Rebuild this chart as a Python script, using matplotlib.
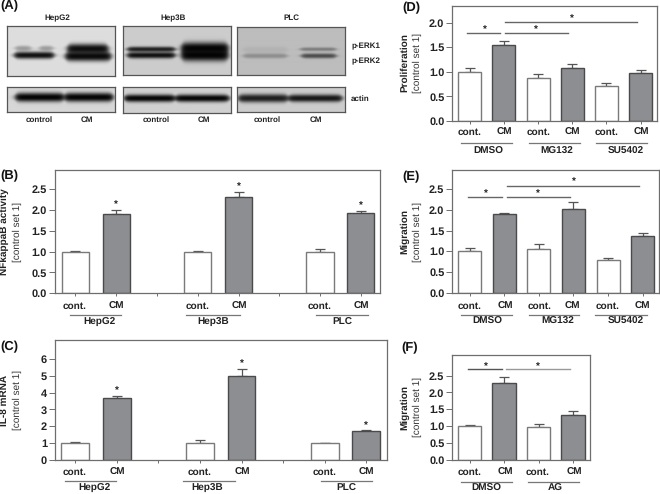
import numpy as np
import matplotlib
matplotlib.use('Agg')
import matplotlib.pyplot as plt

plt.rcParams['font.family'] = ['Liberation Sans', 'DejaVu Sans']
plt.rcParams['text.hinting'] = 'no_hinting'
plt.rcParams['text.hinting_factor'] = 1

W = 660
H = 494
edge_grey = '#6e6e6e'
text_col = '#222222'
cm_col = '#8d8e91'
lab_size = 7.2
blot_size = 5.8

groups_bc = ['HepG2', 'Hep3B', 'PLC']
groups_de = ['DMSO', 'MG132', 'SU5402']
groups_f = ['DMSO', 'AG']

# bar values, pairs of control, CM
nfkb_vals = [1.0, 1.9, 1.0, 2.3, 1.0, 1.92]
nfkb_errs = [0.01, 0.1, 0.01, 0.13, 0.07, 0.06]
il8_vals = [1.0, 3.7, 1.0, 4.95, 1.0, 1.75]
il8_errs = [0.1, 0.12, 0.2, 0.45, 0.01, 0.02]
prolif_vals = [1.0, 1.54, 0.87, 1.08, 0.72, 0.98]
prolif_errs = [0.07, 0.09, 0.08, 0.07, 0.06, 0.06]
migr_vals = [1.0, 1.9, 1.05, 2.02, 0.79, 1.36]
migr_errs = [0.07, 0.02, 0.12, 0.16, 0.04, 0.07]
migr2_vals = [1.0, 2.29, 0.97, 1.32]
migr2_errs = [0.04, 0.16, 0.1, 0.13]

pos_bc = [0, 1, 3, 4, 6, 7]
pos_de = [0, 1, 2, 3, 4, 5]
pos_f = [0, 1, 2, 3]


def ftext(x, y, s, **kw):
    kw.setdefault('ha', 'center')
    kw.setdefault('va', 'center')
    kw.setdefault('color', text_col)
    return fig.text(x / W, 1 - y / H, s, **kw)


def fline(x0, x1, y):
    fig.add_artist(plt.Line2D([x0 / W, x1 / W], [1 - y / H, 1 - y / H], color='#777777', lw=0.9))


def px_axes(left, top, right, bottom):
    return fig.add_axes([left / W, 1 - bottom / H, (right - left) / W, (bottom - top) / H])


def bar_panel(rect, pos, vals, errs, xlim, ylim, yticks, yfmt, tick_x):
    ax = px_axes(*rect)
    cols = ['white', cm_col] * (len(vals) // 2)
    edges = ['#7a7a7a', '#4a4a4a'] * (len(vals) // 2)
    ax.bar(pos, vals, width=0.67, color=cols, edgecolor=edges, linewidth=1.0, zorder=2)
    ax.errorbar(pos, vals, yerr=[np.zeros(len(errs)), errs], fmt='none', ecolor='#555555',
                elinewidth=0.9, capsize=3.8, capthick=0.9, zorder=1)
    ax.set_xlim(*xlim)
    ax.set_ylim(*ylim)
    ax.set_yticks(yticks)
    ax.set_yticklabels([yfmt % v for v in yticks], fontsize=7.8, fontweight='bold', color=text_col)
    ax.set_xticks(tick_x)
    ax.set_xticklabels([])
    ax.tick_params(axis='y', length=4.2, width=0.7, color=edge_grey, pad=1.5)
    ax.tick_params(axis='x', length=2.2, width=0.7, color=edge_grey)
    for s in ax.spines.values():
        s.set_color(edge_grey)
        s.set_linewidth(0.9)
    return ax


def star(ax, x, y):
    ax.annotate('*', (x, y), xytext=(0, 0), textcoords='offset points', ha='center', va='center',
                fontsize=7, fontweight='bold', color=text_col, annotation_clip=False)


def ylab(x0, x1, y, s):
    ftext(x0, y, s, rotation=90, fontsize=lab_size, fontweight='bold')
    ftext(x1, y, '[control set 1]', rotation=90, fontsize=7.4, color='#333333')


def sig(ax, x0, x1, y, col='#666666'):
    ax.plot([x0, x1], [y, y], color=col, lw=1.0, clip_on=False, zorder=3)


def xlabels(xs, y):
    for i, x in enumerate(xs):
        ftext(x, y, 'cont.' if i % 2 == 0 else 'CM', fontsize=lab_size, fontweight='bold')


def blot(rect, bg, bands):
    left, top, right, bottom = rect
    ax = px_axes(*rect)
    xx, yy = np.meshgrid(np.arange(left, right, 0.5), np.arange(top, bottom, 0.5))
    img = np.full(xx.shape, bg, dtype=float)
    for x0, x1, yc, thick, dark in bands:
        # lens shaped band, soft at both ends
        fx = 0.5 * (np.tanh((xx - x0) / 3.0) - np.tanh((xx - x1) / 3.0))
        t = thick * (0.45 + 0.55 * fx)
        fy = np.exp(-(np.abs(yy - yc) / t) ** 2.4)
        img = img * (1 - dark * fx * fy)
    ax.imshow(img, cmap='gray', vmin=0, vmax=1, aspect='auto', interpolation='bilinear')
    ax.set_xticks([])
    ax.set_yticks([])
    for s in ax.spines.values():
        s.set_color('#555555')
        s.set_linewidth(0.9)


fig = plt.figure(figsize=(6.6, 4.94), dpi=100)

# panel letters
for s, x, y in [('(A)', 9, 6), ('(B)', 9, 176), ('(C)', 9, 347), ('(D)', 411, 8), ('(E)', 411, 177), ('(F)', 410, 348)]:
    ftext(x, y, s, fontsize=9, fontweight='bold', color='#111111')

# (A) blots
blot((7, 26, 115, 76), 0.87, [(14, 54, 55, 3.6, 0.92), (15, 31, 48, 2.6, 0.3), (39, 53, 48, 2.6, 0.3),
                              (65, 111, 56, 5, 0.95), (67, 108, 48.5, 5, 0.93)])
blot((123, 26, 231, 75), 0.80, [(127, 175, 49, 2.6, 0.85), (127, 175, 55, 3.2, 0.92),
                                (181, 228, 48, 6, 0.97), (181, 228, 55, 6, 0.97)])
blot((237, 27, 345, 75), 0.74, [(243, 287, 56, 2.4, 0.25), (243, 287, 50, 3, 0.06),
                                (300, 336, 49.5, 1.8, 0.35), (301, 336, 56, 2.4, 0.6)])
blot((7, 87, 115, 112), 0.84, [(15, 64, 97, 4.6, 0.98), (64, 113, 97, 4.6, 0.98)])
blot((123, 87, 231, 113), 0.82, [(124, 175, 98, 3.8, 0.97), (175, 229, 98, 3.8, 0.97)])
blot((237, 87, 345, 112), 0.80, [(238, 288, 98, 4.2, 0.85), (288, 342, 98, 3.8, 0.88)])

for s, x in zip(groups_bc, [57, 173, 291]):
    ftext(x, 18, s, fontsize=blot_size, fontweight='bold')
for s, x in zip(['control', 'CM', 'control', 'CM', 'control', 'CM'], [39, 87, 156, 204, 267, 316]):
    ftext(x, 120, s, fontsize=blot_size, fontweight='bold')
for s, y in [('p-ERK1', 46), ('p-ERK2', 61), ('actin', 99)]:
    ftext(351, y, s, fontsize=blot_size, fontweight='bold', ha='left')

# (B)
ax = bar_panel((55, 170, 380, 293.3), pos_bc, nfkb_vals, nfkb_errs, (-0.5, 7.47), (0, 2.96),
               [0, 0.5, 1, 1.5, 2, 2.5], '%.1f', [0, 1, 2, 3, 4, 5, 6, 7])
for i in [1, 3, 5]:
    star(ax, pos_bc[i], nfkb_vals[i] + nfkb_errs[i] + 0.13)
ylab(4.5, 17, 232, 'NFkappaB activity')
xlabels([75, 116, 198, 239, 320, 361], 306.7)
for x0, x1, x, s in zip([70, 186, 316], [121, 240, 368], [99, 213, 342], groups_bc):
    fline(x0, x1, 314.5)
    ftext(x, 322, s, fontsize=lab_size, fontweight='bold')

# (C)
ax = bar_panel((55, 340, 387, 460.3), pos_bc, il8_vals, il8_errs, (-0.49, 7.5), (0, 7.1),
               [0, 1, 2, 3, 4, 5, 6], '%d', [0, 1, 2, 3, 4, 5, 6, 7])
for i in [1, 3, 5]:
    star(ax, pos_bc[i], il8_vals[i] + il8_errs[i] + 0.3)
ylab(5, 17, 400, 'IL-8 mRNA')
xlabels([75, 117, 200, 242, 325, 366], 472.7)
for x0, x1, x, s in zip([65, 183, 321], [116, 235, 372], [94, 207, 346], groups_bc):
    fline(x0, x1, 481.3)
    ftext(x, 488.7, s, fontsize=lab_size, fontweight='bold')

# (D)
ax = bar_panel((452.3, 6, 657.3, 121), pos_de, prolif_vals, prolif_errs, (-0.51, 5.49), (0, 2.34),
               [0, 0.5, 1, 1.5, 2], '%.1f', pos_de)
sig(ax, -0.09, 0.9, 1.8)
sig(ax, 1.04, 2.88, 1.8)
sig(ax, 1.04, 4.9, 2.01)
star(ax, 0.44, 1.87)
star(ax, 1.94, 1.87)
star(ax, 3.0, 2.08)
ylab(405, 417, 63, 'Proliferation')
xlabels([470, 504, 539, 572, 607, 641], 132.7)
for x0, x1, x, s in zip([460.7, 528.7, 595.7], [511.7, 579.7, 646.7], [488, 557, 626], groups_de):
    fline(x0, x1, 142.7)
    ftext(x, 151.7, s, fontsize=lab_size, fontweight='bold')

# (E)
ax = bar_panel((452.3, 170, 659, 292.7), pos_de, migr_vals, migr_errs, (-0.5, 5.47), (0, 2.96),
               [0, 0.5, 1, 1.5, 2, 2.5], '%.1f', pos_de)
sig(ax, -0.04, 0.94, 2.32)
sig(ax, 1.08, 2.9, 2.32)
sig(ax, 1.08, 4.9, 2.58)
star(ax, 0.48, 2.4)
star(ax, 1.96, 2.4)
star(ax, 3.0, 2.68)
ylab(405, 417, 232, 'Migration')
xlabels([470, 505, 540, 572, 608, 642], 306.7)
for x0, x1, x, s in zip([460.7, 528.7, 595.3], [511.7, 579.3, 646.7], [487.3, 557.3, 626], groups_de):
    fline(x0, x1, 315)
    ftext(x, 321.7, s, fontsize=lab_size, fontweight='bold')

# (F)
ax = bar_panel((452.3, 355.3, 590.3, 460), pos_f, migr2_vals, migr2_errs, (-0.5, 3.5), (0, 3.1),
               [0, 0.5, 1, 1.5, 2, 2.5], '%.1f', pos_f)
sig(ax, -0.04, 0.93, 2.69, '#555555')
sig(ax, 1.07, 2.9, 2.69, '#999999')
star(ax, 0.48, 2.78)
star(ax, 1.98, 2.78)
ylab(405, 417, 407, 'Migration')
xlabels([470, 505, 538, 574], 472.7)
for x0, x1, x, s in zip([460.7, 528.3], [511.7, 579.3], [486.7, 555.7], groups_f):
    fline(x0, x1, 481.7)
    ftext(x, 488.7, s, fontsize=lab_size, fontweight='bold')

fig.savefig('out.png', dpi=100)
